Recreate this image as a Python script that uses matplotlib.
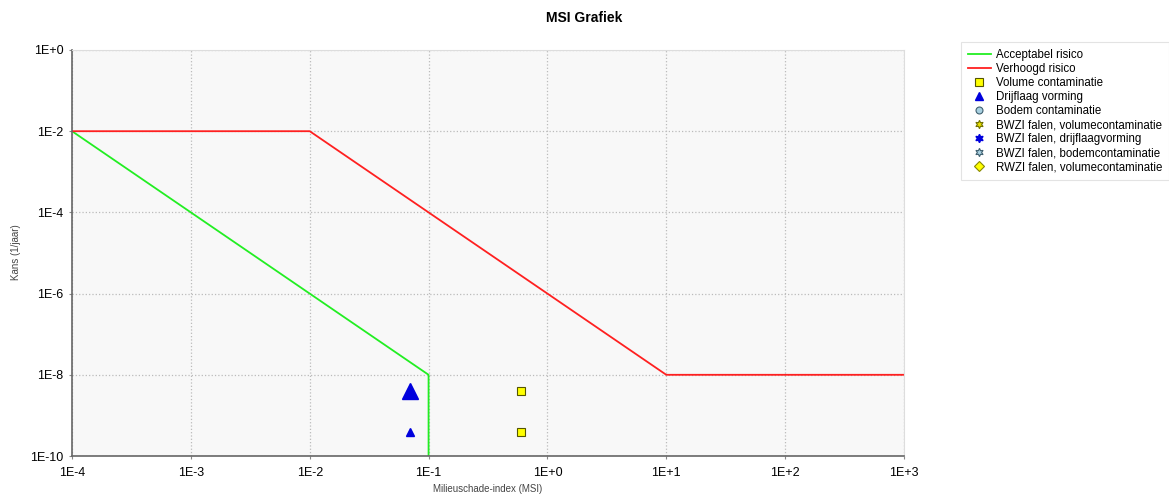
import numpy as np
import matplotlib.pyplot as plt
from matplotlib.ticker import FixedLocator, NullLocator

# risk boundaries
acc_x = [1e-4, 1e-1, 1e-1]
acc_y = [1e-2, 1e-8, 1e-10]
ver_x = [1e-4, 1e-2, 1e1, 1e3]
ver_y = [1e-2, 1e-2, 1e-8, 1e-8]

# scenario points
vol_x = [0.6, 0.6]
vol_y = [4e-9, 4e-10]
drijf_x = [0.07, 0.07]
drijf_y = [4e-10, 4e-9]
drijf_size = [6, 12]

x_ticks = [1e-4, 1e-3, 1e-2, 1e-1, 1e0, 1e1, 1e2, 1e3]
x_labels = ["1E-4", "1E-3", "1E-2", "1E-1", "1E+0", "1E+1", "1E+2", "1E+3"]
y_ticks = [1e-10, 1e-8, 1e-6, 1e-4, 1e-2, 1e0]
y_labels = ["1E-10", "1E-8", "1E-6", "1E-4", "1E-2", "1E+0"]

plt.rcParams['font.family'] = ['Liberation Sans', 'DejaVu Sans']

fig = plt.figure(figsize=(11.69, 4.96), dpi=100)
ax = fig.add_axes([72 / 1169, 1 - 456 / 496, 832 / 1169, 406 / 496])
ax.set_facecolor("#f8f8f8")

ax.plot(acc_x, acc_y, color="#22ee22", lw=1.3, label="Acceptabel risico")
ax.plot(ver_x, ver_y, color="#ff2020", lw=1.3, label="Verhoogd risico")
ax.plot(vol_x, vol_y, ls="none", marker="s", ms=6, mfc="#ffff00", mec="#555500",
        mew=0.8, label="Volume contaminatie")
for i in range(len(drijf_x)):
    ax.plot(drijf_x[i], drijf_y[i], ls="none", marker="^", ms=drijf_size[i],
            color="#0000dd", label="Drijflaag vorming" if i == 0 else None)
# empty series for legend only
ax.plot([], [], ls="none", marker="o", ms=5, mfc="#a8d0e0", mec="#406070",
        mew=0.8, label="Bodem contaminatie")
ax.plot([], [], ls="none", marker=(6, 1, 0), ms=6, mfc="#e8e000", mec="#707000",
        mew=0.8, label="BWZI falen, volumecontaminatie")
ax.plot([], [], ls="none", marker=(6, 1, 0), ms=6, color="#0000dd",
        label="BWZI falen, drijflaagvorming")
ax.plot([], [], ls="none", marker=(6, 1, 0), ms=6, mfc="#a8d0e0", mec="#406070",
        mew=0.8, label="BWZI falen, bodemcontaminatie")
ax.plot([], [], ls="none", marker="D", ms=5, mfc="#ffff00", mec="#888800",
        mew=0.8, label="RWZI falen, volumecontaminatie")

ax.set_xscale("log")
ax.set_yscale("log")
ax.set_xlim(1e-4, 1e3)
ax.set_ylim(1e-10, 1e0)
ax.xaxis.set_major_locator(FixedLocator(x_ticks))
ax.yaxis.set_major_locator(FixedLocator(y_ticks))
ax.xaxis.set_minor_locator(NullLocator())
ax.yaxis.set_minor_locator(NullLocator())
ax.set_xticklabels(x_labels)
ax.set_yticklabels(y_labels)
ax.tick_params(labelsize=9, length=2, color="#888888", pad=4)
ax.tick_params(axis="x", pad=6)
ax.grid(True, color="#bbbbbb", ls=":", lw=0.9)

for s in ["top", "right"]:
    ax.spines[s].set_color("#dddddd")
    ax.spines[s].set_linewidth(0.8)
for s in ["left", "bottom"]:
    ax.spines[s].set_color("#666666")
    ax.spines[s].set_linewidth(1.2)

fig.text(488 / 1169, 1 - 489 / 496, "Milieuschade-index (MSI)", ha="center",
         va="center", fontsize=7, color="#444444")
fig.text(16 / 1169, 1 - 252 / 496, "Kans (1/jaar)", ha="center", va="center",
         fontsize=7, rotation=90, color="#444444")
fig.text(0.5, 1 - 18 / 496, "MSI Grafiek", ha="center", va="center",
         fontsize=10, fontweight="bold")

leg = ax.legend(loc="upper left", bbox_to_anchor=(961 / 1169, 1 - 42 / 496),
                bbox_transform=fig.transFigure, fontsize=8.3, frameon=True,
                fancybox=False, handlelength=2.0, labelspacing=0.18,
                borderpad=0.6, edgecolor="#dddddd", handletextpad=0.45,
                borderaxespad=0)
leg.get_frame().set_linewidth(0.8)

fig.savefig("out.png", dpi=100)
